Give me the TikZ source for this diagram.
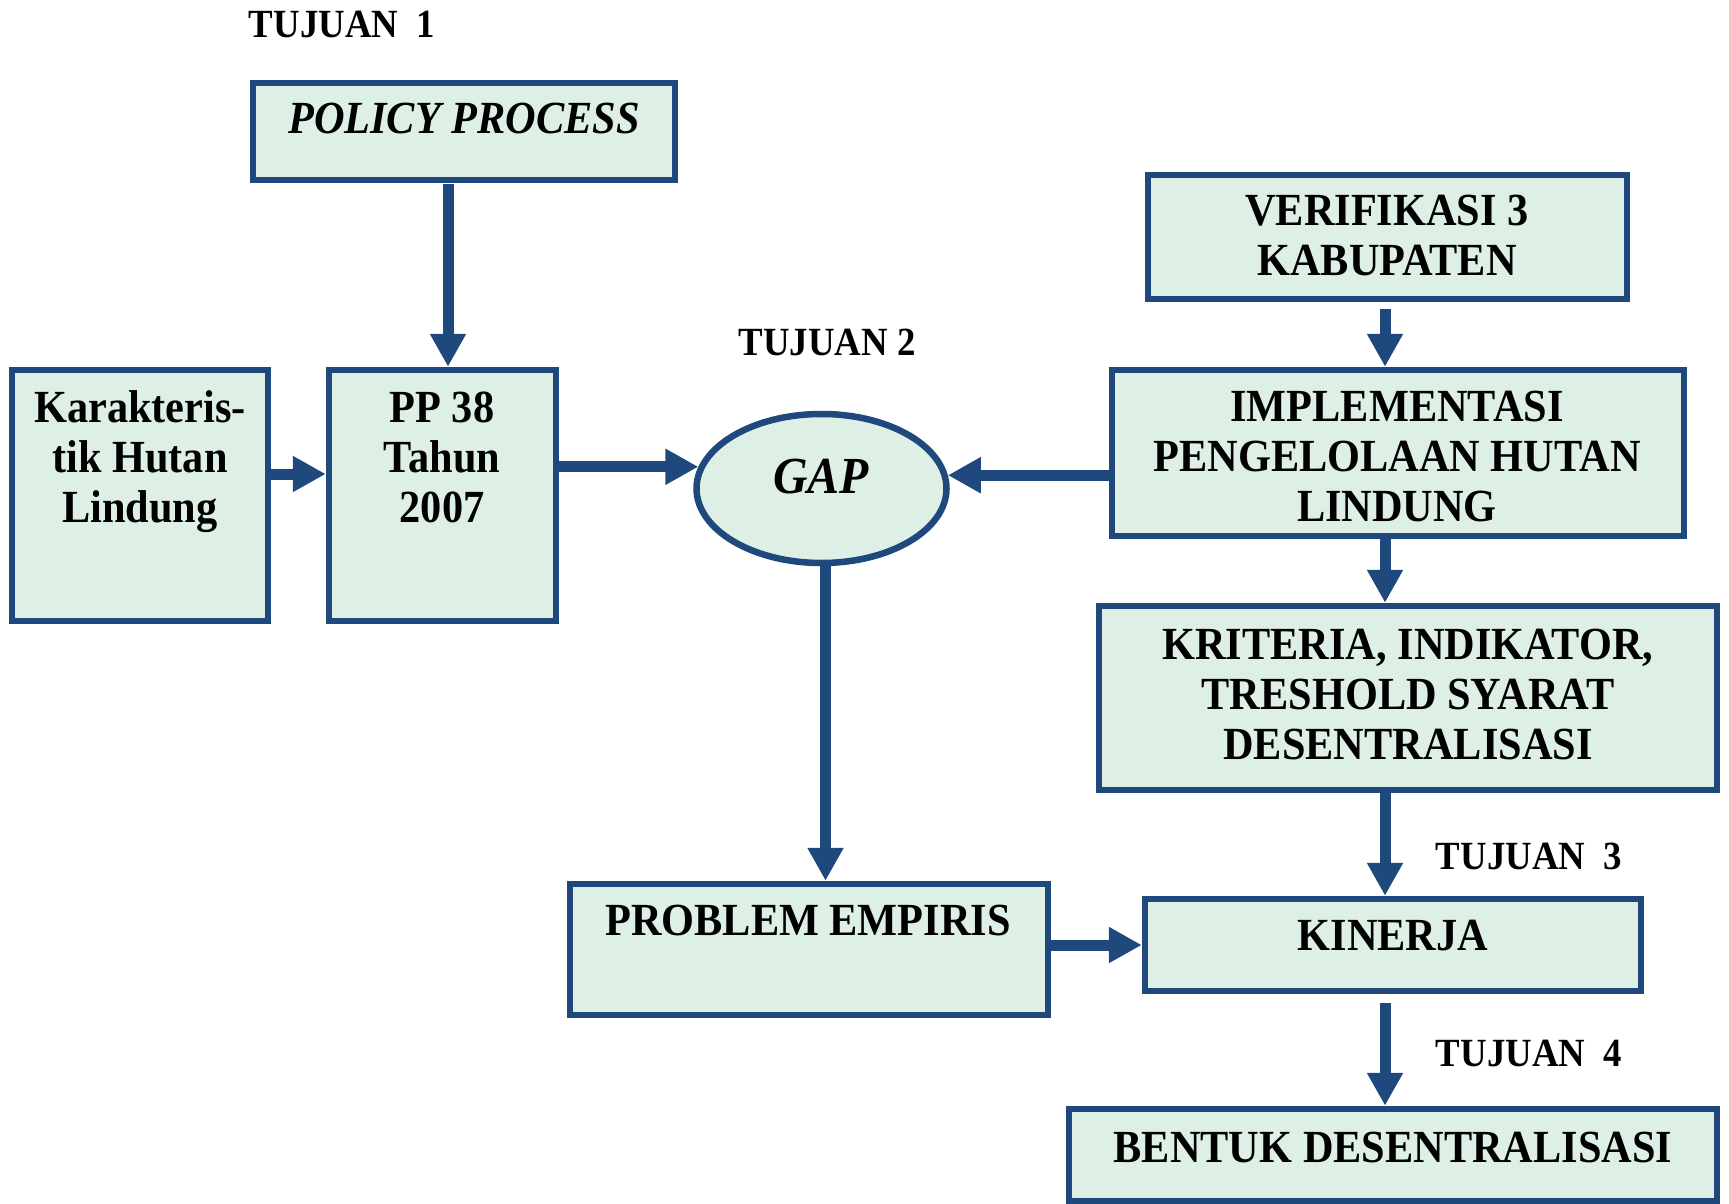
\documentclass[tikz,border=0pt]{standalone}
\usepackage{fontspec}
\setmainfont{Liberation Serif}[FakeStretch=0.92]
\usetikzlibrary{arrows.meta,calc,shapes.geometric}
\definecolor{bdr}{RGB}{31,73,125}
\definecolor{fil}{RGB}{222,239,229}
\begin{document}
\begin{tikzpicture}[x=1pt,y=-1pt,
  box/.style={draw=bdr, fill=fil, line width=6.5pt, inner sep=0pt, rectangle},
  oval/.style={draw=bdr, fill=fil, line width=6.5pt, inner sep=0pt, ellipse},
  txt/.style={font=\fontsize{46}{50}\selectfont\bfseries, align=center, inner sep=0pt, text=black},
  lbl/.style={font=\fontsize{40}{46}\selectfont\bfseries, inner sep=0pt, text=black},
  arr/.style={draw=bdr, line width=11pt, -{Triangle[width=34pt,length=33pt]}}]
\useasboundingbox (0,0) rectangle (1729,1204);
\coordinate (col) at (1385,0);
% boxes
\node[box, minimum width=422pt, minimum height=97pt] (policy) at (464,131.5) {};
\node[box, minimum width=256pt, minimum height=251pt] (karak) at (140,495.5) {};
\node[box, minimum width=227pt, minimum height=251pt] (pp) at (442.5,495.5) {};
\node[oval, minimum width=250pt, minimum height=149pt] (gap) at (821.5,488.5) {};
\node[box, minimum width=479pt, minimum height=124pt] (verif) at (1387.5,237) {};
\node[box, minimum width=572pt, minimum height=166pt] (impl) at (1398,453) {};
\node[box, minimum width=618pt, minimum height=184pt] (krit) at (1408,698) {};
\node[box, minimum width=478pt, minimum height=131pt] (prob) at (809,949.5) {};
\node[box, minimum width=496pt, minimum height=92pt] (kin) at (1393,945) {};
\node[box, minimum width=648pt, minimum height=92pt] (bent) at (1393,1155) {};
% texts
\node[txt] (policyT) at (464,124) {\strut\itshape POLICY PROCESS\strut};
\node[txt] (karakT) at (140,462) {\strut Karakteris-\\tik Hutan\\Lindung\strut};
\node[txt] (ppT) at (442,462) {\strut PP 38\\Tahun\\2007\strut};
\node[txt, font=\fontsize{52}{58}\selectfont\bfseries] (gapT) at (821,481.5) {\strut\itshape GAP\strut};
\node[txt] (verifT) at (1387,240) {\strut VERIFIKASI 3\\KABUPATEN\strut};
\node[txt] (implT) at (1397,461.5) {\strut IMPLEMENTASI\\PENGELOLAAN HUTAN\\LINDUNG\strut};
\node[txt] (kritT) at (1408,699) {\strut KRITERIA, INDIKATOR,\\TRESHOLD SYARAT\\DESENTRALISASI\strut};
\node[txt] (probT) at (808,925) {\strut PROBLEM EMPIRIS\strut};
\node[txt] (kinT) at (1393,940) {\strut KINERJA\strut};
\node[txt] (bentT) at (1393,1152) {\strut BENTUK DESENTRALISASI\strut};
% labels
\node[lbl] (t1) at (342,24) {TUJUAN\ \ 1};
\node[lbl] (t2) at (827,342) {TUJUAN 2};
\node[lbl] (t3) at (1529,856) {TUJUAN\ \ 3};
\node[lbl] (t4) at (1529,1053) {TUJUAN\ \ 4};
% connectors
\draw[arr] ($(pp.north)+(5.5,-183)$) -- ($(pp.north)+(5.5,0)$);
\draw[arr] ($(karak.east)+(0,-21.5)$) -- ($(pp.west)+(0,-21.5)$);
\draw[arr] (pp.east |- gap.170) -- (gap.170);
\draw[arr] (impl.west |- gap.6) -- (gap.6);
\draw[arr] ($(gap.south)+(4,0)$) -- ($(gap.south |- prob.north)+(4,0)$);
\draw[arr] ($(verif.south -| col)+(0,7)$) -- (impl.north -| col);
\draw[arr] (impl.south -| col) -- (krit.north -| col);
\draw[arr] (krit.south -| col) -- (kin.north -| col);
\draw[arr] (prob.east |- kin.west) -- (kin.west);
\draw[arr] ($(kin.south -| col)+(0,9)$) -- (bent.north -| col);
\end{tikzpicture}
\end{document}
